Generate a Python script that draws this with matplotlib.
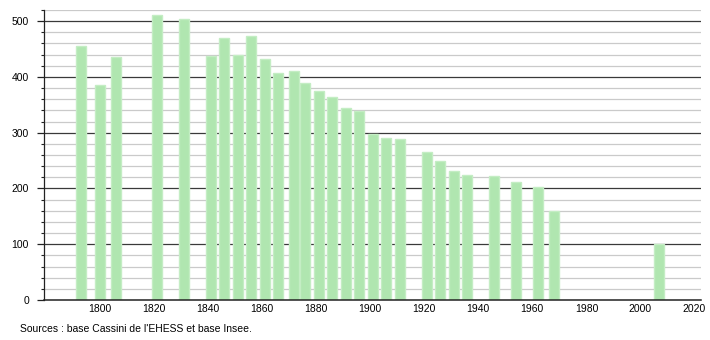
import matplotlib
matplotlib.use("Agg")
import matplotlib.pyplot as plt
from matplotlib.ticker import MultipleLocator

years = [1793, 1800, 1806, 1821, 1831, 1841, 1846, 1851, 1856, 1861, 1866,
         1872, 1876, 1881, 1886, 1891, 1896, 1901, 1906, 1911, 1921, 1926,
         1931, 1936, 1946, 1954, 1962, 1968, 2007]
population = [455, 386, 436, 511, 504, 437, 470, 440, 473, 432, 407,
              411, 390, 375, 364, 344, 339, 297, 291, 288, 266, 250,
              231, 225, 223, 212, 202, 159, 101]
xticks = [1800, 1820, 1840, 1860, 1880, 1900, 1920, 1940, 1960, 1980, 2000, 2020]
yticks = [0, 100, 200, 300, 400, 500]
source = "Sources : base Cassini de l'EHESS et base Insee."

plt.rcParams['font.family'] = ['Liberation Sans', 'DejaVu Sans']

fig = plt.figure(figsize=(7.1, 3.4), dpi=100)
ax = fig.add_axes([0.0624, 0.1176, 0.9246, 0.853])

# gridlines
for v in range(20, 521, 20):
    if v % 100 == 0:
        ax.axhline(v, color='#3a3a3a', lw=0.9, zorder=1)
    else:
        ax.axhline(v, color='#cacaca', lw=0.9, zorder=1)

ax.bar(years, population, width=3.7, color='#b0e6b0', edgecolor='#c4edc4',
       linewidth=1.0, zorder=2)

ax.set_xlim(1779.5, 2022.3)
ax.set_ylim(0, 520)
ax.set_xticks(xticks)
ax.set_yticks(yticks)
ax.yaxis.set_minor_locator(MultipleLocator(20))
ax.tick_params(axis='y', which='major', length=5, width=0.9, color='#222222',
               labelsize=7.5, pad=6)
ax.tick_params(axis='y', which='minor', length=2.5, width=0.8, color='#222222')
ax.tick_params(axis='x', which='major', length=0, labelsize=7.5, pad=3)

for s in ['top', 'right']:
    ax.spines[s].set_visible(False)
ax.spines['left'].set_color('#222222')
ax.spines['bottom'].set_color('#222222')
ax.spines['left'].set_linewidth(0.9)
ax.spines['bottom'].set_linewidth(1.1)

fig.text(20 / 710, 1 - 329 / 340, source, fontsize=7.5, va='center', ha='left')

fig.savefig('out.png', dpi=100)
